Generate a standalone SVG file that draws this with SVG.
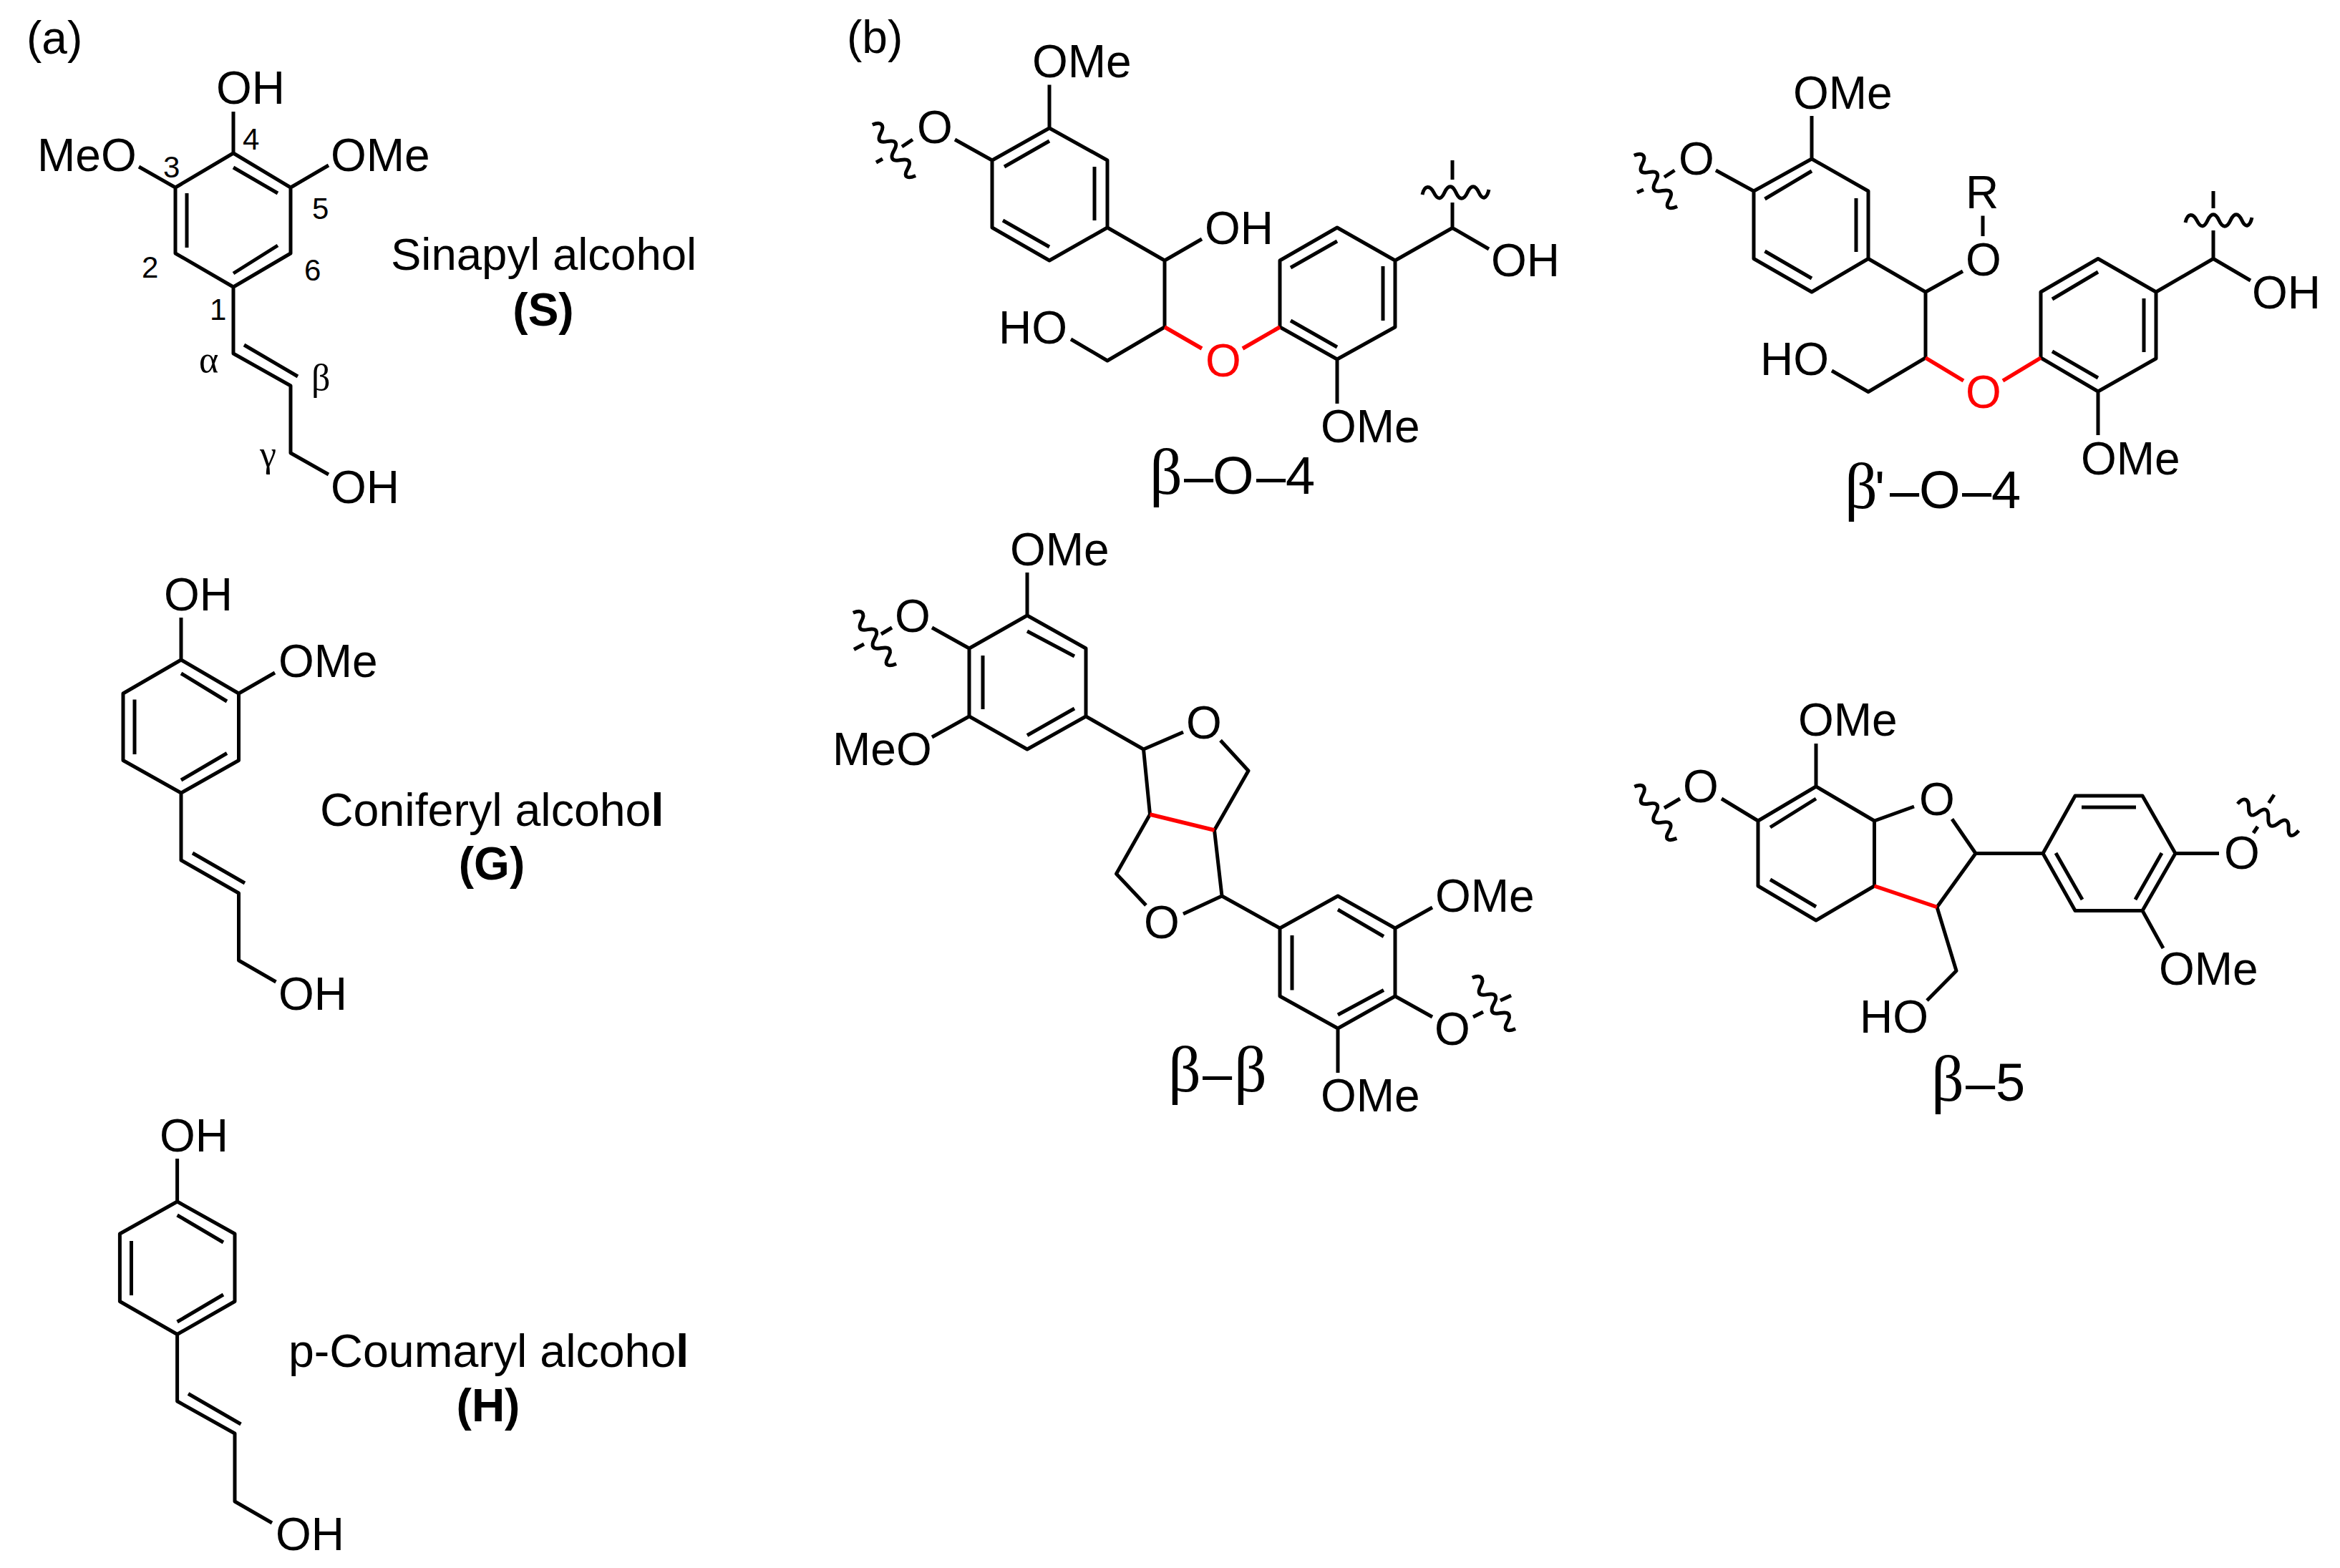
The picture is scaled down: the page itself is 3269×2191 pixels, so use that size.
<svg xmlns="http://www.w3.org/2000/svg" xmlns:xlink="http://www.w3.org/1999/xlink" width="3269" height="2191" viewBox="0 0 3269 2191">
<style>
text{font-family:"Liberation Sans",Arial,sans-serif;fill:#000}
.a{font-size:64px;transform:translate(-3px,0)}
.n{font-size:42px;transform:translate(-4px,0)}
.g{font-family:"Liberation Serif","Times New Roman",serif;font-size:52px;transform:translate(-3px,0)}
.t{font-size:64.500px;transform:translate(-2px,0)}
.b{font-size:64px;font-weight:bold;text-anchor:middle;transform:translate(-2px,0)}
.l{font-size:74px;transform:translate(-3px,0)}
.lg{font-family:"Liberation Serif","Times New Roman",serif;font-size:90px;transform:translate(-4px,0)}
.r{fill:#f00}
.k{fill:none;stroke:#000;stroke-width:5;stroke-linejoin:round;stroke-linecap:butt;transform:translate(-3px,0)}
.rb{fill:none;stroke:#f00;stroke-width:5.500;stroke-linecap:butt;transform:translate(-3px,0)}
</style>
<defs>
<path id="w" class="k" d="M0 3C3 -11 11 -10 16 0S26 11 31 0S42 -11 47 0S58 11 63 0S74 -11 79 0S90 9 93 -4"/>
</defs>
<rect width="3269" height="2191" fill="#fff"/>
<text class="a" x="40" y="75">(a)</text>
<text class="a" x="1186" y="74">(b)</text>
<g id="sinapyl">
<path class="k" d="M329 214L409 262L409 354L329 401L248 354L248 262ZM264 270V346M329 234L391 270M391 343L329 382M329 156V214M197 233L248 262M462 231L409 262M329 401V494L409 539V633L462 663M344 482L419 526"/>
<text class="a" x="305" y="145">OH</text>
<text class="a" x="55" y="239">MeO</text>
<text class="a" x="465" y="239">OMe</text>
<text class="a" x="465" y="703">OH</text>
<text class="n" x="232" y="248">3</text>
<text class="n" x="343" y="209">4</text>
<text class="n" x="440" y="306">5</text>
<text class="n" x="202" y="388">2</text>
<text class="n" x="429" y="392">6</text>
<text class="n" x="297" y="447">1</text>
<text class="g" x="281" y="520">α</text>
<text class="g" x="438" y="545">β</text>
<text class="g" x="366" y="652">γ</text>
<text class="t" x="548" y="377" font-size="63.500" style="font-size:63.500px">Sinapyl alcohol</text>
<text class="b" x="761" y="455">(S)</text>
</g>
<g id="coniferyl">
<path class="k" d="M256 922L336.500 969V1062.500L256 1108L175 1062.500V969ZM256 941L320 980M191 977.500V1054M320 1052.500L256 1090M256 863V922M336.500 969L387 940M256 1108V1202L336.500 1248V1342L388.500 1372M272 1192L345 1234"/>
<text class="a" x="232" y="853">OH</text>
<text class="a" x="392" y="946">OMe</text>
<text class="a" x="392" y="1411">OH</text>
<text class="t" x="449" y="1154">Coniferyl alcoho<tspan font-weight="bold">l</tspan></text>
<text class="b" x="689" y="1229">(G)</text>
</g>
<g id="coumaryl">
<path class="k" d="M250.600 1679L331 1724V1818.500L250.600 1864.500L170.400 1818.500V1724ZM250.600 1698L315 1736M186.500 1734V1810M315 1809L250.600 1847M250.600 1619V1679M250.600 1864.500V1958L331 2003V2098L383 2128M266 1947.500L339.500 1990"/>
<text class="a" x="226" y="1609">OH</text>
<text class="a" x="388" y="2166">OH</text>
<text class="t" x="405" y="1910">p-Coumaryl alcoho<tspan font-weight="bold">l</tspan></text>
<text class="b" x="684" y="1986">(H)</text>
</g>
<g id="beta-o-4">
<path class="k" d="M1469 179L1550 224V318L1469 364L1389 318V224ZM1469 197L1406 233M1532 233V308M1404 308L1469 345M1469 118.500V179M1337 195L1389 224M1278 195L1263 205M1236 222L1227 227M1550 318L1630 364L1682 334M1630 364V457L1550 504L1499 474M1791 457V364L1871 318L1952 364V457L1871 502ZM1806 374L1871 337M1935 372V448M1806 448L1871 485M1871 502V564M1952 364L2032 318.500L2083 348M2032 318.500V283M2032 251V224"/>
<path class="rb" d="M1630 457L1682 487M1739 487L1791 457"/>
<use href="#w" xlink:href="#w" transform="translate(1223 175) rotate(54)"/>
<use href="#w" xlink:href="#w" transform="translate(1990 269)"/>
<text class="a" x="1445" y="108">OMe</text>
<text class="a" x="1284" y="200">O</text>
<text class="a" x="1686" y="341">OH</text>
<text class="a" x="1398" y="480">HO</text>
<text class="a r" x="1687" y="526">O</text>
<text class="a" x="1848" y="618">OMe</text>
<text class="a" x="2086" y="386">OH</text>
<text class="lg" x="1610" y="690">β</text><text class="l" x="1657" y="690">–</text><text class="l" x="1697" y="690">O</text><text class="l" x="1758" y="690">–</text><text class="l" x="1799" y="690">4</text>
</g>
<g id="beta-prime-o-4">
<path class="k" d="M2534 222L2613 267V361.500L2534 408L2453 361.500V267ZM2534 239L2468.500 278M2596 277V352M2468.500 351L2534 389M2534 162V222M2400 238L2453 267M2342.500 238L2328 247.500M2299 265L2290 269M2613 361.500L2693 408L2745 379M2773 330V301.500M2693 408V500L2613 547.500L2562 518M2854 500V408L2934 361.500L3015 408V501L2934 547ZM2870 418L2934 380M2998 417V492M2870 491L2934 528M2934 547V608M3015 408L3095 361.500L3147 392M3095 361.500V322M3095 291V267"/>
<path class="rb" d="M2693 500L2746 532M2801 532L2854 500"/>
<use href="#w" xlink:href="#w" transform="translate(2287 218) rotate(54)"/>
<use href="#w" xlink:href="#w" transform="translate(3056 308)"/>
<text class="a" x="2508" y="151.500">OMe</text>
<text class="a" x="2348" y="244">O</text>
<text class="a" x="2749" y="384.600">O</text>
<text class="a" x="2749" y="291">R</text>
<text class="a" x="2462" y="524">HO</text>
<text class="a r" x="2749" y="570">O</text>
<text class="a" x="2910" y="663">OMe</text>
<text class="a" x="3149" y="431">OH</text>
<text class="lg" x="2581" y="710">β</text><text class="l" x="2622" y="710">'</text><text class="l" x="2643" y="710">–</text><text class="l" x="2684" y="710">O</text><text class="l" x="2744" y="710">–</text><text class="l" x="2785" y="710">4</text>
</g>
<g id="beta-beta">
<path class="k" d="M1438 860L1520 906V1001L1438 1047L1357 1001V906ZM1438 882L1504 917M1376 916V991M1438 1027.500L1504 990M1438 800V860M1305 877L1357 906M1249 877L1234 886M1210 900L1196 907.500M1305 1030L1357 1001M1520 1001L1600.500 1047L1656 1023M1708 1034.500L1747 1077L1699.500 1160L1710 1252L1656 1277M1600.500 1047L1609.500 1138L1562.500 1221L1604 1265M1710 1252L1791 1297M1791 1297L1872 1252L1952 1297V1392L1872 1437L1791 1392ZM1808 1307V1383.500M1872 1271L1936 1308.500M1936 1383.500L1872 1418M1952 1297L2004 1268M1952 1392L2004 1421M2061 1421L2075 1414M2099 1398L2114 1391M1872 1437V1499"/>
<path class="rb" d="M1609.500 1138L1699.500 1160"/>
<use href="#w" xlink:href="#w" transform="translate(1196 857) rotate(54)"/>
<use href="#w" xlink:href="#w" transform="translate(2061 1367) rotate(54)"/>
<text class="a" x="1414" y="790">OMe</text>
<text class="a" x="1253" y="883">O</text>
<text class="a" x="1166" y="1069">MeO</text>
<text class="a" x="1660" y="1031.600">O</text>
<text class="a" x="1601" y="1311">O</text>
<text class="a" x="2008" y="1274">OMe</text>
<text class="a" x="2007" y="1460">O</text>
<text class="a" x="1848" y="1553">OMe</text>
<text class="lg" x="1636" y="1525">β</text><text class="l" x="1683" y="1525">–</text><text class="lg" x="1728" y="1525">β</text>
</g>
<g id="beta-5">
<path class="k" d="M2540 1099L2621.500 1147V1238L2540 1286L2459 1238V1147ZM2540 1116L2476 1156M2476 1229L2540 1267M2540 1039V1099M2408 1116L2459 1147M2350 1116L2328 1129M2621.500 1147L2677 1127M2730 1144.500L2763 1192.500L2709 1267.500L2736 1356.500L2695 1398M2763 1192.500H2857L2902 1112H2996L3042 1192.500L2996 1272.500H2902L2857 1192.500M2911 1128H2987M2875 1192L2912 1257M3023 1192L2986 1257M3042 1192.500H3103M3157 1155L3151 1164M3180 1110.500L3172.500 1122M2996 1272.500L3025 1325"/>
<path class="rb" d="M2621.500 1238L2709 1267.500"/>
<use href="#w" xlink:href="#w" transform="translate(2287.500 1100) rotate(55)"/>
<use href="#w" xlink:href="#w" transform="translate(3130 1122) rotate(28)"/>
<text class="a" x="2515" y="1028">OMe</text>
<text class="a" x="2354" y="1121">O</text>
<text class="a" x="2684" y="1139">O</text>
<text class="a" x="3110" y="1214">O</text>
<text class="a" x="3019" y="1376">OMe</text>
<text class="a" x="2601" y="1443">HO</text>
<text class="lg" x="2702" y="1538">β</text><text class="l" x="2749" y="1538">–</text><text class="l" x="2791" y="1538">5</text>
</g>
</svg>
